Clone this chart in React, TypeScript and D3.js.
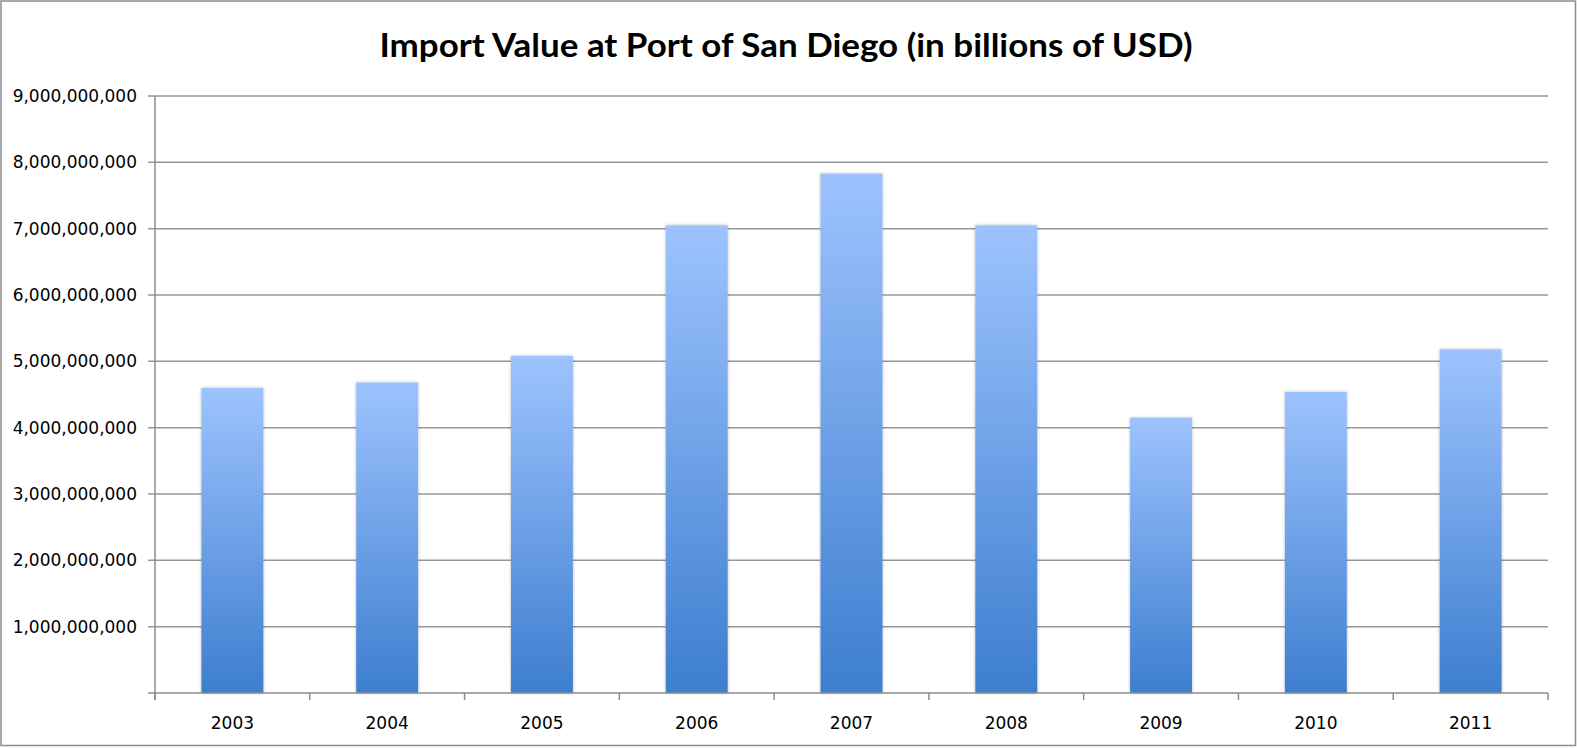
import { useMemo } from "react";
import * as d3 from "d3";

const years = ["2003", "2004", "2005", "2006", "2007", "2008", "2009", "2010", "2011"];
const importValues = [
  4.6e9, 4.68e9, 5.08e9, 7.05e9, 7.83e9, 7.05e9, 4.15e9, 4.54e9, 5.18e9,
];
const yTicks = [0, 1e9, 2e9, 3e9, 4e9, 5e9, 6e9, 7e9, 8e9, 9e9];
const title = "Import Value at Port of San Diego (in billions of USD)";

const W = 1577;
const H = 748;
const plot = { left: 155, right: 1548, top: 96, bottom: 693 };

export default function App() {
  const x = useMemo(
    () =>
      d3
        .scaleBand<string>()
        .domain(years)
        .range([plot.left, plot.right])
        .paddingInner(0.6)
        .paddingOuter(0.3),
    []
  );
  const y = useMemo(
    () => d3.scaleLinear().domain([0, 9e9]).range([plot.bottom, plot.top]),
    []
  );
  const fmt = d3.format(",");
  const step = x.step();
  // category boundaries for the x tick marks
  const bounds = d3.range(years.length + 1).map((i) => plot.left + i * step);
  const labelFont = "17px 'DejaVu Sans', sans-serif";

  return (
    <svg
      width={W}
      height={H}
      style={{ position: "absolute", left: 0, top: 0, background: "#fff" }}
    >
      <defs>
        <linearGradient id="barGrad" x1="0" y1="0" x2="0" y2="1">
          <stop offset="0%" stopColor="#9dc3fe" />
          <stop offset="100%" stopColor="#3d7ecf" />
        </linearGradient>
        <filter id="barShadow" x="-20%" y="-5%" width="140%" height="110%">
          <feDropShadow dx="0" dy="0" stdDeviation="1.6" floodOpacity="0.3" />
        </filter>
      </defs>

      <rect x={1} y={1} width={W - 2.5} height={H - 3.5} fill="#fff" stroke="#8c8c8c" strokeWidth={1.5} />

      <text
        x={786}
        y={57}
        textAnchor="middle"
        textLength={813}
        lengthAdjust="spacingAndGlyphs"
        style={{ font: "bold 32px Lato, 'Open Sans', sans-serif", fill: "#000" }}
      >
        {title}
      </text>

      {/* gridlines + y labels */}
      {yTicks.map((t) => (
        <g key={t}>
          {t > 0 && (
            <line x1={plot.left - 7} x2={plot.right} y1={y(t)} y2={y(t)} stroke="#979797" strokeWidth={1.5} />
          )}
          {t > 0 && (
            <text
              x={137}
              y={y(t)}
              dy="0.35em"
              textAnchor="end"
              style={{ font: labelFont, fill: "#000" }}
            >
              {fmt(t)}
            </text>
          )}
        </g>
      ))}

      {/* bars */}
      {years.map((yr, i) => (
        <rect
          key={yr}
          x={x(yr)}
          y={y(importValues[i])}
          width={x.bandwidth()}
          height={y(0) - y(importValues[i])}
          fill="url(#barGrad)"
          filter="url(#barShadow)"
        />
      ))}

      {/* axes */}
      <line x1={plot.left} x2={plot.left} y1={plot.top} y2={plot.bottom + 7} stroke="#8c8c8c" strokeWidth={1.5} />
      <line x1={plot.left - 7} x2={plot.right} y1={plot.bottom} y2={plot.bottom} stroke="#8c8c8c" strokeWidth={1.5} />
      {bounds.map((b, i) => (
        <line key={i} x1={b} x2={b} y1={plot.bottom} y2={plot.bottom + 7} stroke="#8c8c8c" strokeWidth={1.5} />
      ))}
      {years.map((yr) => (
        <text
          key={yr}
          x={(x(yr) ?? 0) + x.bandwidth() / 2}
          y={729}
          textAnchor="middle"
          style={{ font: labelFont, fill: "#000" }}
        >
          {yr}
        </text>
      ))}
    </svg>
  );
}
